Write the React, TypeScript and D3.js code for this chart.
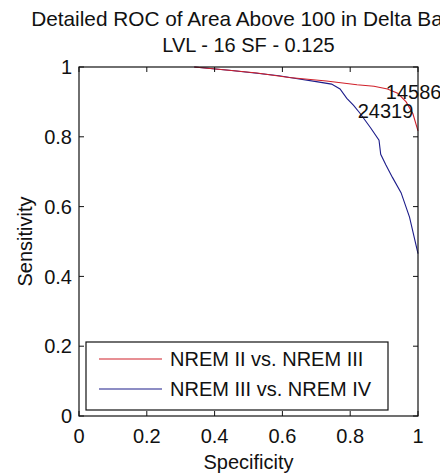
import React from "react";
import * as d3 from "d3";

const redX = [0.34, 0.45, 0.525, 0.62, 0.73, 0.82, 0.87, 0.91, 0.94, 0.965, 0.985, 1.0];
const redY = [1.0, 0.99, 0.983, 0.97, 0.96, 0.949, 0.945, 0.937, 0.925, 0.9, 0.866, 0.817];
const blueX = [0.34, 0.45, 0.525, 0.59, 0.64, 0.7, 0.745, 0.77, 0.79, 0.81, 0.83, 0.86, 0.885, 0.89, 0.905, 0.925, 0.95, 0.975, 1.0];
const blueY = [1.0, 0.99, 0.982, 0.975, 0.967, 0.958, 0.951, 0.937, 0.91, 0.89, 0.866, 0.826, 0.79, 0.75, 0.72, 0.683, 0.64, 0.57, 0.465];
const xTicks = [0, 0.2, 0.4, 0.6, 0.8, 1];
const yTicks = [0, 0.2, 0.4, 0.6, 0.8, 1];
const seriesNames = ["NREM II vs. NREM III", "NREM III vs. NREM IV"];
const seriesColors = ["#d0202a", "#1c1c8a"];
const annotations = [
  { label: "14586", x: 0.905, y: 0.928 },
  { label: "24319", x: 0.822, y: 0.874 },
];
const titleLines = ["Detailed ROC of Area Above 100 in Delta Band", "LVL - 16 SF - 0.125"];

const W = 440, H = 474;
const L = 79, R = 418, T = 67, B = 416;
const FONT = "'Liberation Sans', Arial, Helvetica, sans-serif";

export default function App() {
  const x = d3.scaleLinear().domain([0, 1]).range([L, R]);
  const y = d3.scaleLinear().domain([0, 1]).range([B, T]);
  const line = d3.line<[number, number]>().x(d => x(d[0])).y(d => y(d[1]));
  const redPts = redX.map((v, i) => [v, redY[i]] as [number, number]);
  const bluePts = blueX.map((v, i) => [v, blueY[i]] as [number, number]);
  const cx = (L + R) / 2;
  const tl = 5;
  return (
    <svg width={W} height={H} style={{ position: "absolute", left: 0, top: 0, background: "#fff" }} fontFamily={FONT}>
      <rect x={0} y={0} width={W} height={H} fill="#fff" />
      <text x={cx} y={26} textAnchor="middle" fontSize={20.8} fill="#111">{titleLines[0]}</text>
      <text x={cx} y={52} textAnchor="middle" fontSize={20} fill="#111">{titleLines[1]}</text>

      <path d={line(bluePts) || ""} fill="none" stroke={seriesColors[1]} strokeWidth={1.1} />
      <path d={line(redPts) || ""} fill="none" stroke={seriesColors[0]} strokeWidth={1.1} />

      {annotations.map(a => (
        <text key={a.label} x={x(a.x)} y={y(a.y)} dy="0.36em" fontSize={20} fill="#111">{a.label}</text>
      ))}

      <rect x={L} y={T} width={R - L} height={B - T} fill="none" stroke="#111" strokeWidth={1.2} />
      {xTicks.map(t => (
        <g key={"x" + t}>
          <line x1={x(t)} x2={x(t)} y1={B} y2={B - tl} stroke="#111" />
          <line x1={x(t)} x2={x(t)} y1={T} y2={T + tl} stroke="#111" />
          <text x={x(t)} y={443} textAnchor="middle" fontSize={20} fill="#111">{String(t)}</text>
        </g>
      ))}
      {yTicks.map(t => (
        <g key={"y" + t}>
          <line x1={L} x2={L + tl} y1={y(t)} y2={y(t)} stroke="#111" />
          <line x1={R} x2={R - tl} y1={y(t)} y2={y(t)} stroke="#111" />
          <text x={72} y={y(t)} dy="0.36em" textAnchor="end" fontSize={20} fill="#111">{String(t)}</text>
        </g>
      ))}
      <text x={cx} y={469} textAnchor="middle" fontSize={20} fill="#111">Specificity</text>
      <text transform={`translate(32,${(T + B) / 2}) rotate(-90)`} textAnchor="middle" fontSize={20} fill="#111">Sensitivity</text>

      <rect x={86} y={342} width={302} height={68} fill="#fff" stroke="#111" strokeWidth={1.2} />
      {seriesNames.map((n, i) => (
        <g key={n}>
          <line x1={99} x2={162} y1={359 + i * 30} y2={359 + i * 30} stroke={seriesColors[i]} strokeWidth={1.1} />
          <text x={170} y={359 + i * 30} dy="0.36em" fontSize={20} fill="#111">{n}</text>
        </g>
      ))}
    </svg>
  );
}
